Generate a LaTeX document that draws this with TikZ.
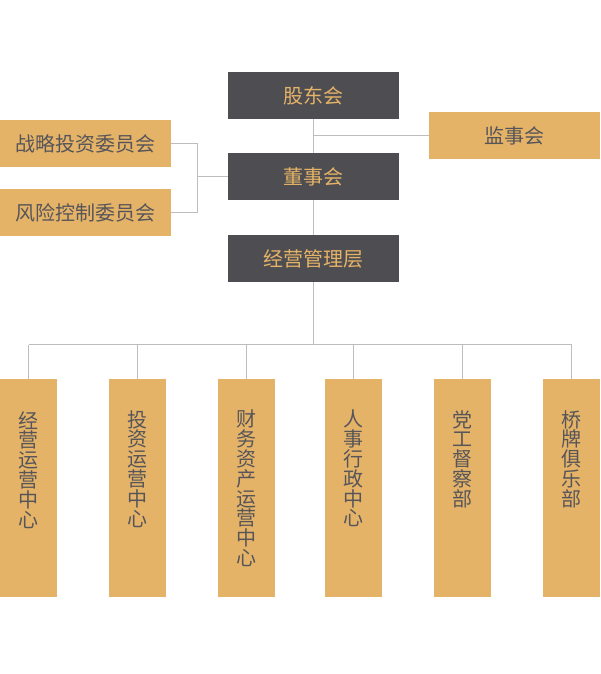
\documentclass[tikz,border=0pt]{standalone}
\usepackage{fontspec}
\newfontfamily\cjk{Noto Sans CJK SC}
\definecolor{darkbox}{HTML}{4E4D52}
\definecolor{goldbox}{HTML}{E5B367}
\definecolor{ink}{HTML}{56555A}
\definecolor{wiregray}{HTML}{BDBDBD}

\begin{document}
\begin{tikzpicture}[x=1pt,y=-1pt,
    topbox/.style={fill=darkbox,text=goldbox,minimum width=171pt,minimum height=47pt,inner sep=0pt,font=\cjk\fontsize{20}{20}\selectfont},
    sidebox/.style={fill=goldbox,text=ink,minimum width=171pt,minimum height=47pt,inner sep=0pt,font=\cjk\fontsize{20}{20}\selectfont},
    deptbox/.style={fill=goldbox,minimum width=57pt,minimum height=218pt,inner sep=0pt},
    depttext/.style={text=ink,anchor=north,align=center,inner sep=0pt,font=\cjk\fontsize{20}{19.8}\selectfont},
    wire/.style={draw=wiregray,line width=1pt}]
    \useasboundingbox (0,0) rectangle (600,674);

    \node[topbox] (gudong) at (313.5,95.5) {股东会};
    \node[topbox] (dongshi) at (313.5,176.5) {董事会};
    \node[topbox] (jingying) at (313.5,258.5) {经营管理层};

    \node[sidebox] (jianshi) at (514.5,135.5) {监事会};
    \node[sidebox] (zhanlue) at (85.5,143.5) {战略投资委员会};
    \node[sidebox] (fengxian) at (85.5,212.5) {风险控制委员会};

    \foreach \i/\x in {1/28.5, 2/137.5, 3/246.5, 4/353.5, 5/462.5, 6/571.5} {
      \node[deptbox] (d\i) at (\x,488) {};
    }

    \node[depttext] (d1text) at (28.5,411) {经\\营\\运\\营\\中\\心};
    \node[depttext] (d2text) at (137.5,410) {投\\资\\运\\营\\中\\心};
    \node[depttext] (d3text) at (246.5,410) {财\\务\\资\\产\\运\\营\\中\\心};
    \node[depttext] (d4text) at (353.5,410) {人\\事\\行\\政\\中\\心};
    \node[depttext] (d5text) at (462.5,410) {党\\工\\督\\察\\部};
    \node[depttext] (d6text) at (571.5,410) {桥\\牌\\俱\\乐\\部};

    % main line
    \draw[wire] (gudong.south) -- (dongshi.north);
    \draw[wire] (dongshi.south) -- (jingying.north);
    \draw[wire] (jianshi.west) -- (jianshi.west -| gudong.south);

    % committees
    \coordinate (lbus) at (197.5,176.5);
    \draw[wire] (zhanlue.east) -| (lbus) |- (fengxian.east);
    \draw[wire] (lbus) -- (dongshi.west);

    % departments
    \coordinate (bus) at (313.5,344.5);
    \draw[wire] (jingying.south) -- (bus);
    \draw[wire] (d1.north |- bus) -- (d6.north |- bus);
    \foreach \i in {1,...,6} {
      \draw[wire] (d\i.north) -- (d\i.north |- bus);
    }
  \end{tikzpicture}
\end{document}
